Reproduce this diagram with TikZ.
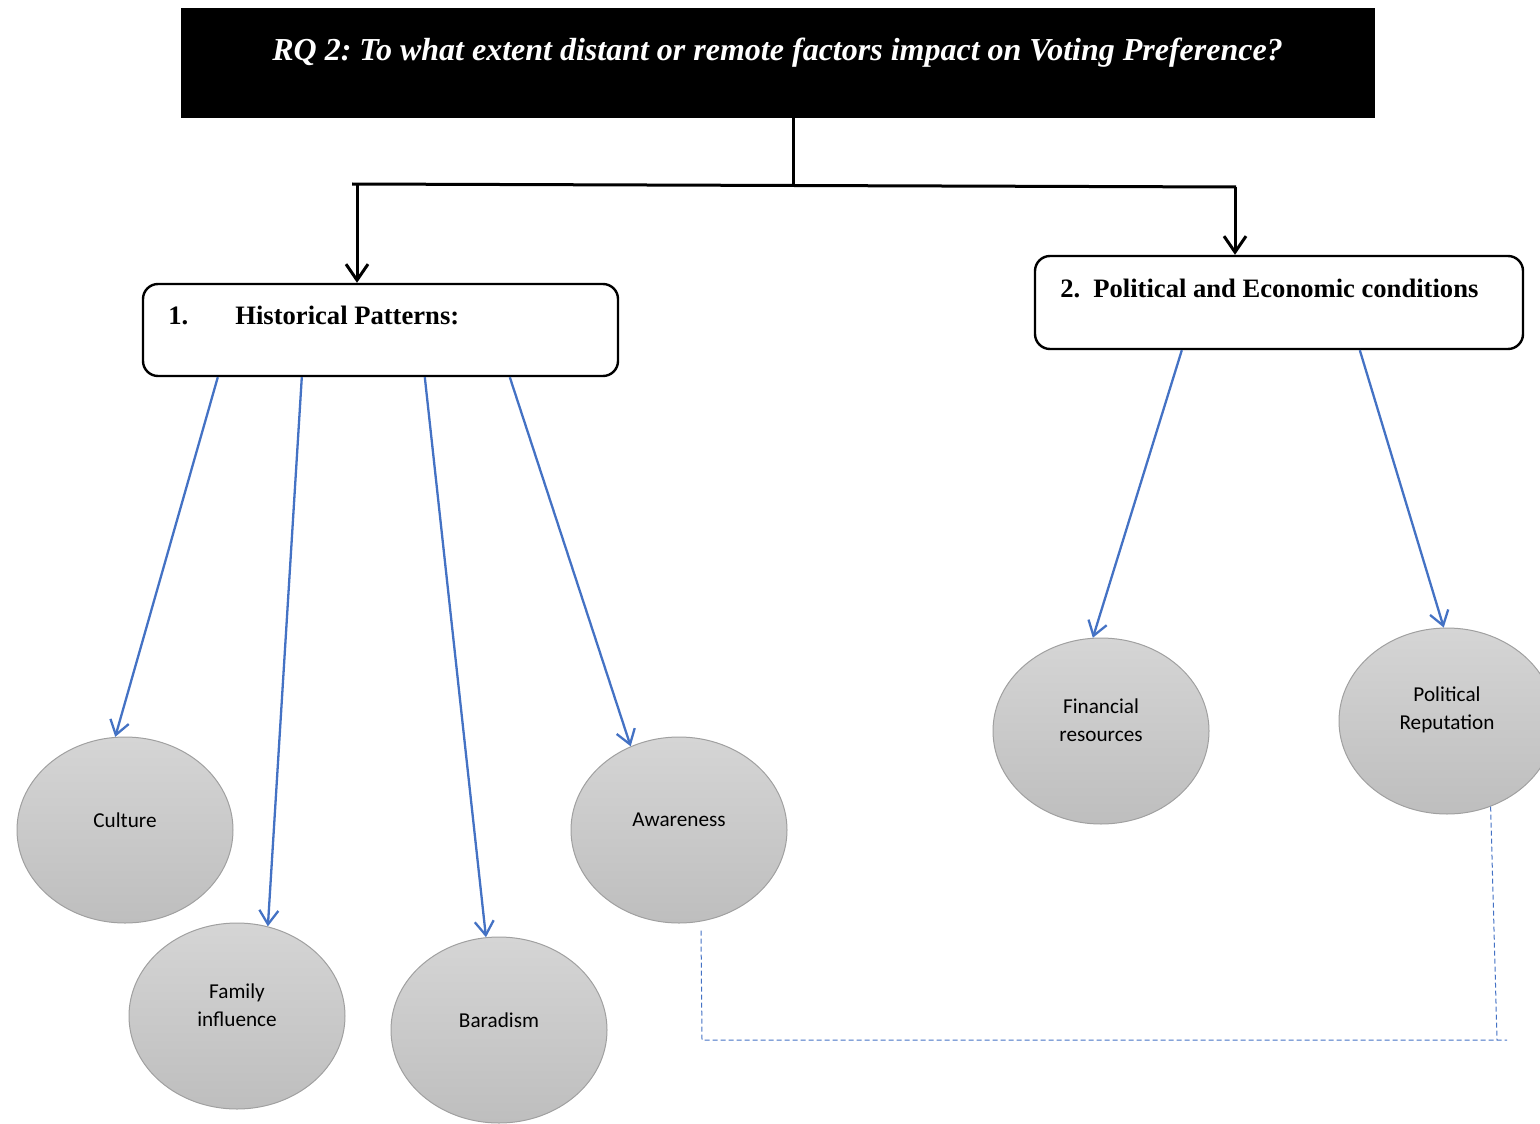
\documentclass[tikz,border=0pt]{standalone}
\usepackage{fontspec}
\setmainfont{Liberation Serif}
\newfontfamily\calib{Carlito}
\usetikzlibrary{arrows.meta,calc,shapes.geometric}
\definecolor{arrowblue}{HTML}{4472C4}
\definecolor{elltop}{HTML}{D5D5D5}
\definecolor{ellbot}{HTML}{BEBEBE}
\definecolor{ellborder}{HTML}{A0A0A0}
\frenchspacing
\begin{document}
\begin{tikzpicture}[x=0.5pt,y=-0.5pt,
  titlebox/.style={draw=black, fill=black, minimum width=596.5pt, minimum height=54.5pt, inner sep=0},
  titletext/.style={text=white, font=\fontsize{16pt}{18pt}\selectfont\bfseries\itshape, inner sep=0},
  catbox/.style={draw=black, line width=1.2pt, rounded corners=7.5pt, fill=white, inner sep=0},
  cattext/.style={font=\fontsize{13.3pt}{16pt}\selectfont\bfseries, inner sep=0, anchor=base west},
  factor/.style={ellipse, draw=ellborder, line width=0.5pt, top color=elltop, bottom color=ellbot, minimum width=108pt, minimum height=93pt, inner sep=0},
  flabel/.style={font=\calib\fontsize{10.6pt}{14pt}\selectfont, align=center, inner sep=0},
  blkarrow/.style={line width=1.5pt, -{Straight Barb[length=8pt,width=11pt]}},
  bluearrow/.style={draw=arrowblue, line width=1.15pt, -{Straight Barb[length=7pt,width=9.5pt]}},
  dashlink/.style={draw=arrowblue, line width=0.5pt, dash pattern=on 2.5pt off 1.5pt},
]
\useasboundingbox (0,0) rectangle (1540,1123);

% title
\node[titlebox] (title) at (777.5,62.5) {};
\node[titletext] (titlet) at (777.5,53) {RQ 2: To what extent distant or remote factors impact on Voting Preference?};

% category boxes
\node[catbox, minimum width=237.5pt, minimum height=46pt] (h1) at (380.5,330) {};
\node[cattext] (h1t) at (168,324) {\makebox[33.5pt][l]{1.}Historical Patterns:};
\node[catbox, minimum width=244pt, minimum height=46.5pt] (h2) at (1279,302.5) {};
\node[cattext] (h2t) at (1060,297) {\makebox[16.5pt][l]{2.}Political and Economic conditions};

% black connectors
\coordinate (j) at (793,185);
\coordinate (hl) at (352,184);
\coordinate (hr) at (1236,187);
\coordinate (dl) at (357,184);
\coordinate (dr) at (1235,187);
\draw[line width=1.5pt] ($(title.south)+(15.5,0)$) -- (j);
\draw[line width=1.5pt] (hl) -- (hr);
\draw[blkarrow] (dl) -- (dl |- h1.north);
\draw[blkarrow] (dr) -- (dr |- h2.north);

% factor ellipses
\node[factor] (culture) at (125,830) {};
\node[flabel] (culturet) at (125,820) {Culture};
\node[factor] (family) at (237,1016) {};
\node[flabel] (familyt) at (237,1005) {Family\\influence};
\node[factor] (baradism) at (499,1030) {};
\node[flabel] (baradismt) at (499,1020) {Baradism};
\node[factor] (aware) at (679,830) {};
\node[flabel] (awaret) at (679,820) {Awareness};
\node[factor] (financ) at (1101,731) {};
\node[flabel] (financt) at (1101,720) {Financial\\resources};
\node[factor] (polit) at (1447,721) {};
\node[flabel] (politt) at (1447,710) {Political\\Reputation};

% blue arrows
\draw[bluearrow] ($(h1.south west)+(76,0)$) -- (culture.96);
\draw[bluearrow] ($(h1.south west)+(160,0)$) -- (family.71);
\draw[bluearrow] ($(h1.south west)+(283,0)$) -- (baradism.98);
\draw[bluearrow] ($(h1.south west)+(368,0)$) -- (aware.120);
\draw[bluearrow] ($(h2.south west)+(148,0)$) -- (financ.95);
\draw[bluearrow] ($(h2.south west)+(326,0)$) -- (polit.92);

% dashed link
\coordinate (dc) at (702,1040);
\coordinate (dv) at (1497,1040);
\coordinate (de) at (1507,1040);
\draw[dashlink] ($(aware.south)+(22,7)$) -- (dc) -- (de);
\draw[dashlink] (polit.-63) -- (dv);
\end{tikzpicture}
\end{document}
